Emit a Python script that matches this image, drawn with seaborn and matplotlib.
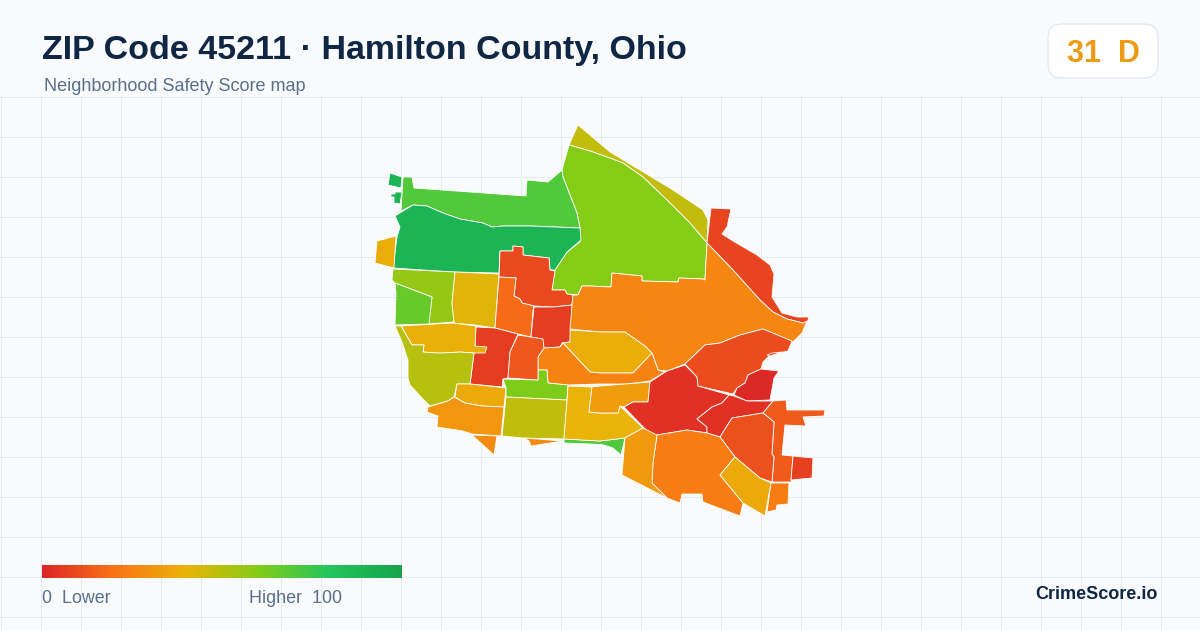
import numpy as np
import seaborn as sns
from matplotlib import pyplot as plt
from matplotlib.patches import FancyBboxPatch

# outlines in image pixels
north_sliver = [(578, 125), (590, 135), (610, 152), (640, 170), (673, 190), (703, 210), (708, 220), (707, 243),
                (690, 223), (667, 200), (643, 177), (623, 163), (607, 157), (590, 151), (569, 145)]
north_big = [(569, 145), (590, 151), (607, 157), (623, 163), (643, 177), (667, 200), (690, 223), (707, 243),
             (705, 280), (703, 279), (679, 278), (678, 282), (642, 281), (642, 276), (612, 273), (611, 287),
             (590, 286), (582, 286), (578, 295), (567, 294), (565, 290), (552, 290), (555, 270), (567, 252),
             (580, 242), (580, 228), (577, 213), (563, 177), (562, 170)]
northeast_red = [(711, 208), (731, 209), (727, 227), (722, 234), (733, 241), (757, 255), (770, 265), (774, 274),
                 (772, 297), (782, 313), (797, 317), (809, 317), (807, 323), (803, 323), (787, 319), (773, 312),
                 (760, 300), (733, 270), (707, 243)]
northwest = [(403, 177), (412, 177), (414, 188), (526, 196), (527, 180), (548, 182), (562, 170), (563, 177),
             (577, 213), (580, 228), (530, 226), (503, 226), (492, 227), (483, 223), (460, 219), (443, 213),
             (427, 206), (413, 205), (401, 211)]
dark_west = [(395, 216), (413, 205), (427, 206), (443, 213), (460, 219), (483, 223), (492, 227), (503, 226),
             (530, 226), (580, 228), (581, 240), (567, 252), (555, 270), (550, 270), (549, 258), (523, 255),
             (523, 247), (513, 246), (513, 251), (500, 251), (499, 273), (453, 272), (393, 268), (397, 237),
             (400, 227)]
island_a = [(390, 173), (402, 177), (401, 188), (388, 185)]
island_b = [(395, 192), (402, 192), (400, 204), (394, 203), (394, 197), (391, 197), (391, 194), (395, 194)]
west_tab = [(396, 236), (394, 268), (375, 263), (377, 241)]
west_ell = [(393, 269), (455, 272), (452, 303), (454, 322), (428, 324), (432, 297), (395, 283), (392, 280)]
west_inner = [(395, 283), (432, 297), (429, 324), (395, 325), (396, 293)]
mid_yellow = [(455, 272), (499, 274), (495, 328), (475, 325), (453, 323), (454, 322), (452, 303)]
top_red = [(500, 251), (513, 251), (513, 246), (523, 247), (523, 255), (549, 258), (550, 270), (555, 271),
           (552, 290), (565, 290), (567, 294), (573, 295), (572, 305), (553, 307), (534, 306), (522, 303),
           (520, 299), (514, 296), (516, 278), (499, 277)]
top_orange = [(499, 277), (516, 278), (514, 296), (520, 299), (522, 303), (534, 306), (533, 310), (531, 337),
              (518, 334), (495, 328)]
center_red = [(534, 307), (553, 307), (572, 305), (572, 310), (570, 342), (562, 343), (560, 347), (544, 348),
              (542, 339), (531, 337)]
east_big = [(573, 295), (578, 295), (582, 286), (590, 286), (611, 287), (612, 273), (642, 276), (642, 281),
            (678, 282), (679, 278), (703, 279), (705, 280), (707, 243), (733, 270), (760, 300), (773, 312),
            (787, 319), (803, 323), (807, 321), (802, 333), (793, 342), (763, 329), (740, 335), (720, 343),
            (705, 345), (685, 364), (667, 371), (658, 370), (652, 353), (645, 346), (625, 332), (600, 332),
            (570, 329), (572, 305)]
center_yellow = [(570, 330), (600, 332), (625, 332), (645, 346), (652, 353), (633, 373), (600, 373), (590, 372),
                 (563, 343), (570, 342)]
center_orange = [(544, 348), (560, 347), (563, 343), (590, 372), (600, 373), (633, 373), (652, 353), (658, 370),
                 (665, 372), (650, 381), (627, 384), (600, 384), (568, 385), (548, 383), (547, 370), (538, 370),
                 (538, 357)]
lime_tee = [(503, 379), (538, 380), (538, 370), (547, 370), (548, 383), (568, 385), (567, 400), (506, 397),
            (506, 388)]
west_red = [(476, 327), (495, 328), (518, 334), (510, 352), (508, 378), (503, 379), (502, 387), (470, 384),
            (474, 353), (475, 346)]
west_orange = [(518, 335), (543, 339), (544, 348), (538, 357), (538, 370), (538, 380), (508, 378), (510, 352)]
west_band = [(401, 326), (453, 323), (476, 326), (475, 346), (487, 347), (485, 353), (474, 353), (460, 352),
             (443, 353), (437, 353), (423, 352), (424, 345), (412, 345)]
west_olive = [(395, 326), (401, 326), (412, 345), (424, 345), (423, 352), (437, 353), (443, 353), (460, 352),
              (474, 353), (470, 384), (457, 384), (454, 397), (448, 401), (430, 406), (422, 398), (410, 385),
              (408, 378), (408, 360), (402, 342)]
south_band = [(457, 384), (470, 384), (506, 388), (504, 407), (482, 406), (465, 403), (455, 397)]
southwest = [(454, 397), (465, 403), (482, 406), (504, 407), (501, 436), (472, 434), (463, 431), (437, 427),
             (438, 416), (427, 412), (428, 407), (448, 401)]
south_tip = [(472, 435), (497, 436), (494, 455)]
south_olive = [(506, 397), (567, 400), (564, 439), (523, 438), (502, 436)]
south_chip = [(524, 438), (563, 441), (531, 446), (529, 441)]
south_green = [(564, 439), (600, 441), (625, 438), (621, 455), (613, 448), (602, 444.5), (564, 443)]
south_yellow = [(568, 386), (592, 387), (589, 412), (600, 413), (618, 413), (620, 406), (643, 428), (625, 438),
                (600, 441), (564, 439), (567, 400)]
south_amber = [(592, 387), (600, 386), (650, 382), (648, 402), (633, 402), (624, 407), (620, 406), (618, 413),
               (600, 413), (589, 412)]
core_red = [(650, 382), (667, 371), (685, 365), (697, 377), (698, 386), (729, 395), (722, 403), (712, 407),
            (697, 419), (707, 427), (707, 433), (687, 430), (657, 435), (650, 434), (624, 407), (633, 402),
            (648, 402)]
east_red = [(685, 364), (705, 345), (720, 343), (740, 335), (763, 329), (792, 341), (788, 351), (770, 355),
            (763, 362), (761, 369), (748, 375), (745, 383), (737, 388), (733, 394), (698, 386), (697, 377)]
shore_chip = [(767, 355), (772, 353), (782, 352), (770, 356)]
crimson = [(761, 369), (779, 371), (774, 378), (770, 400), (747, 401), (734, 395), (737, 388), (745, 383),
           (748, 375)]
core_east = [(729, 395), (734, 396), (747, 401), (773, 401), (763, 413), (732, 418), (720, 437), (707, 433),
             (707, 427), (697, 419), (712, 407), (722, 403)]
east_strip = [(773, 401), (786, 400), (787, 410), (825, 410), (824, 416), (803, 417), (806, 426), (785, 425),
              (782, 455), (793, 456), (791, 482), (772, 482), (774, 457), (772, 454), (774, 422), (763, 413)]
se_inner = [(732, 418), (763, 413), (774, 422), (772, 454), (774, 457), (772, 482), (760, 478), (735, 457),
            (720, 437)]
far_east = [(793, 456), (813, 458), (812, 478), (791, 480)]
south_big = [(657, 435), (687, 430), (707, 433), (720, 437), (735, 457), (720, 475), (743, 503), (740, 516),
             (703, 502), (702, 494), (682, 494), (680, 503), (667, 498), (652, 483), (653, 463)]
se_amber = [(643, 428), (657, 435), (653, 463), (652, 483), (667, 498), (622, 475), (625, 438)]
se_yellow = [(735, 457), (760, 478), (771, 483), (765, 516), (743, 503), (720, 475)]
se_orange = [(771, 483), (789, 483), (788, 504), (777, 505), (776, 510), (767, 512)]

zones = [north_sliver, north_big, northeast_red, northwest, dark_west, island_a, island_b, west_tab, west_ell,
         west_inner, mid_yellow, top_red, top_orange, center_red, east_big, center_yellow, center_orange, lime_tee,
         west_red, west_orange, west_band, west_olive, south_band, southwest, south_tip, south_olive, south_chip,
         south_green, south_yellow, south_amber, core_red, east_red, shore_chip, crimson, core_east, east_strip,
         se_inner, far_east, south_big, se_amber, se_yellow, se_orange]
scores = [48, 60, 8, 70, 90, 90, 90, 38, 57, 66, 42, 9, 18, 6, 26, 38, 25, 61, 6, 13, 39, 50, 37, 31, 27, 48, 28,
          71, 40, 33, 3, 10, 4, 1, 3, 14, 11, 7, 23, 32, 37, 23]

ramp_colors = ["#dc2626", "#f97316", "#eab308", "#84cc16", "#22c55e", "#16a34a"]

sns.set_theme(style="white")
plt.rcParams['font.family'] = ['Liberation Sans', 'DejaVu Sans']

ramp = sns.blend_palette(ramp_colors, as_cmap=True)

fig = plt.figure(figsize=(12, 6.3), dpi=100, facecolor="#f8fafc")
ax = fig.add_axes([0, 0, 1, 1])
ax.set_xlim(0, 1200)
ax.set_ylim(630, 0)
ax.axis("off")

# background grid only starts under the header
for x in np.arange(0.5, 1200, 40):
    ax.plot([x, x], [96, 630], color="#e2ecf3", lw=0.72, zorder=1)
for y in np.arange(96.5, 630, 40):
    ax.plot([0, 1200], [y, y], color="#e2ecf3", lw=0.72, zorder=1)

for outline, score in zip(zones, scores):
    ax.fill(*zip(*outline), facecolor=ramp(score / 100), edgecolor="white", lw=0.6, zorder=2)

ax.text(42, 59, "ZIP Code 45211 · Hamilton County, Ohio", fontsize=24.5, fontweight="bold", color="#0f2744",
        va="baseline")
ax.text(44, 91, "Neighborhood Safety Score map", fontsize=13, color="#5a6f8c", va="baseline")

badge = FancyBboxPatch((1062, 38), 82, 26, boxstyle="round,pad=14,rounding_size=14", mutation_aspect=1,
                       facecolor="white", edgecolor="#dde5ee", lw=0.72, zorder=3)
ax.add_patch(badge)
ax.text(1103, 62, "31  D", fontsize=22, fontweight="bold", color="#ee9a14", ha="center", va="baseline", zorder=4)

# legend bar is a one row heatmap
bar_ax = fig.add_axes([42 / 1200, 1 - 578 / 630, 360 / 1200, 13 / 630])
sns.heatmap(np.linspace(0, 100, 360).reshape(1, -1), ax=bar_ax, cmap=ramp, vmin=0, vmax=100, cbar=False,
            xticklabels=False, yticklabels=False)

ax.text(42, 603, "0  Lower", fontsize=12.9, color="#5a6f8c", va="baseline")
ax.text(249, 603, "Higher  100", fontsize=12.9, color="#5a6f8c", va="baseline")
ax.text(1158, 599, "CrimeScore.io", fontsize=13, fontweight="bold", color="#0f2744", ha="right", va="baseline")

fig.savefig("out.png", dpi=100, facecolor=fig.get_facecolor())
